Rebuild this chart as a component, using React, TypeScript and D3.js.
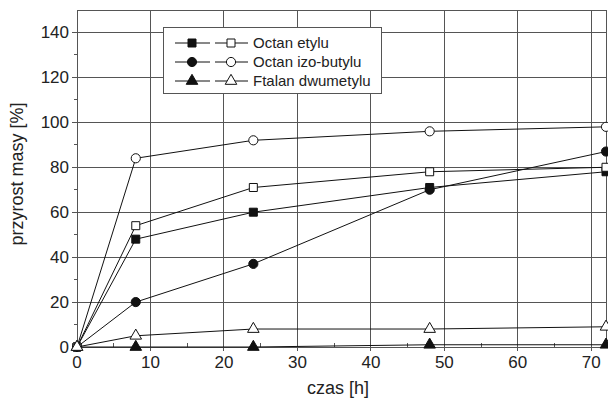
import React, { useEffect, useRef } from "react";
import * as d3 from "d3";

const hours = [0, 8, 24, 48, 72];
const etylFilled = [0, 48, 60, 71, 78];
const etylOpen = [0, 54, 71, 78, 80];
const izoFilled = [0, 20, 37, 70, 87];
const izoOpen = [0, 84, 92, 96, 98];
const ftalFilled = [0, 0, 0, 1, 1];
const ftalOpen = [0, 5, 8, 8, 9];

const xTicks = [0, 10, 20, 30, 40, 50, 60, 70];
const yTicks = [0, 20, 40, 60, 80, 100, 120, 140];
const legendNames = ["Octan etylu", "Octan izo-butylu", "Ftalan dwumetylu"];

const App = () => {
  const ref = useRef<SVGSVGElement>(null);

  useEffect(() => {
    const width = 608;
    const height = 403;
    const margin = { top: 10, right: 2, bottom: 56, left: 77 };
    const font = "'Liberation Sans', Arial, sans-serif";

    const svg = d3.select(ref.current);
    svg.selectAll("*").remove();

    const x = d3.scaleLinear().domain([0, 72]).range([margin.left, width - margin.right]);
    const y = d3.scaleLinear().domain([0, 150]).range([height - margin.bottom, margin.top]);

    const x0 = x.range()[0], x1 = x.range()[1];
    const y0 = y.range()[0], y1 = y.range()[1];

    // grid
    const grid = svg.append("g").attr("stroke", "#555").attr("stroke-width", 1).attr("shape-rendering", "crispEdges");
    grid.selectAll(".gx").data(xTicks.slice(1)).join("line")
      .attr("x1", (d) => x(d)).attr("x2", (d) => x(d)).attr("y1", y0).attr("y2", y1);
    grid.selectAll(".gy").data(yTicks.slice(1)).join("line")
      .attr("x1", x0).attr("x2", x1).attr("y1", (d) => y(d)).attr("y2", (d) => y(d));

    // frame
    svg.append("rect")
      .attr("x", x0).attr("y", y1).attr("width", x1 - x0).attr("height", y0 - y1)
      .attr("fill", "none").attr("stroke", "#555").attr("shape-rendering", "crispEdges");

    // ticks
    const ticks = svg.append("g").attr("stroke", "#555").attr("shape-rendering", "crispEdges");
    ticks.selectAll(".ty").data(yTicks).join("line")
      .attr("x1", x0 - 5).attr("x2", x0).attr("y1", (d) => y(d)).attr("y2", (d) => y(d));
    ticks.selectAll(".tym").data(d3.range(10, 150, 20)).join("line")
      .attr("x1", x0 - 3).attr("x2", x0).attr("y1", (d) => y(d)).attr("y2", (d) => y(d));
    ticks.selectAll(".tx").data(xTicks).join("line")
      .attr("x1", (d) => x(d)).attr("x2", (d) => x(d)).attr("y1", y0).attr("y2", y0 + 4);
    ticks.selectAll(".txm").data(d3.range(5, 75, 10)).join("line")
      .attr("x1", (d) => x(d)).attr("x2", (d) => x(d)).attr("y1", y0).attr("y2", y0 - 4);

    // tick labels
    svg.append("g").selectAll("text").data(yTicks).join("text")
      .attr("x", x0 - 8).attr("y", (d) => y(d)).attr("dy", "0.35em")
      .attr("text-anchor", "end").attr("font-family", font).attr("font-size", 17).attr("fill", "#222")
      .text((d) => d);
    svg.append("g").selectAll("text").data(xTicks).join("text")
      .attr("x", (d) => x(d)).attr("y", y0 + 21)
      .attr("text-anchor", "middle").attr("font-family", font).attr("font-size", 17).attr("fill", "#222")
      .text((d) => d);

    // axis titles
    svg.append("text")
      .attr("x", 338).attr("y", height - 9)
      .attr("text-anchor", "middle").attr("font-family", font).attr("font-size", 18).attr("fill", "#222")
      .text("czas [h]");
    svg.append("text")
      .attr("transform", `translate(23,174) rotate(-90)`)
      .attr("text-anchor", "middle").attr("font-family", font).attr("font-size", 18).attr("fill", "#222")
      .text("przyrost masy [%]");

    const series = [
      { values: etylFilled, shape: d3.symbolSquare, size: 64, filled: true },
      { values: etylOpen, shape: d3.symbolSquare, size: 64, filled: false },
      { values: izoFilled, shape: d3.symbolCircle, size: 66, filled: true },
      { values: izoOpen, shape: d3.symbolCircle, size: 66, filled: false },
      { values: ftalFilled, shape: d3.symbolTriangle, size: 58, filled: true },
      { values: ftalOpen, shape: d3.symbolTriangle, size: 58, filled: false },
    ];

    const line = d3.line<number>().x((_, i) => x(hours[i])).y((d) => y(d));

    series.forEach((s) => {
      svg.append("path").attr("d", line(s.values)).attr("fill", "none").attr("stroke", "#111").attr("stroke-width", 1);
    });
    series.forEach((s) => {
      svg.append("g").selectAll("path").data(s.values).join("path")
        .attr("transform", (d, i) => `translate(${x(hours[i])},${y(d)})`)
        .attr("d", d3.symbol().type(s.shape).size(s.size)())
        .attr("fill", s.filled ? "#111" : "#fff")
        .attr("stroke", "#111").attr("stroke-width", 1);
    });

    // legend
    const lg = svg.append("g");
    lg.append("rect").attr("x", 163.5).attr("y", 27.5).attr("width", 218).attr("height", 66)
      .attr("fill", "#fff").attr("stroke", "#555");
    const rowsY = [43, 62, 81];
    legendNames.forEach((name, k) => {
      const ry = rowsY[k];
      const fs = series[k * 2];
      const os = series[k * 2 + 1];
      lg.append("line").attr("x1", 175).attr("x2", 210).attr("y1", ry).attr("y2", ry).attr("stroke", "#111");
      lg.append("path").attr("transform", `translate(192,${ry})`)
        .attr("d", d3.symbol().type(fs.shape).size(fs.size)()).attr("fill", "#111").attr("stroke", "#111");
      lg.append("line").attr("x1", 215).attr("x2", 248).attr("y1", ry).attr("y2", ry).attr("stroke", "#111");
      lg.append("path").attr("transform", `translate(231,${ry})`)
        .attr("d", d3.symbol().type(os.shape).size(os.size)()).attr("fill", "#fff").attr("stroke", "#111");
      lg.append("text").attr("x", 253).attr("y", ry).attr("dy", "0.35em")
        .attr("font-family", font).attr("font-size", 15).attr("fill", "#222").text(name);
    });
  }, []);

  return (
    <svg
      ref={ref}
      width={608}
      height={403}
      style={{ position: "absolute", left: 0, top: 0, background: "#fff" }}
    />
  );
};

export default App;
